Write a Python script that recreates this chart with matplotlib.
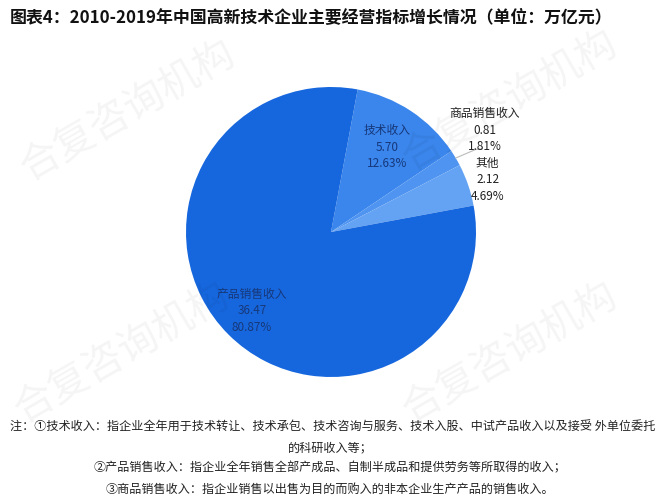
import matplotlib
matplotlib.use("Agg")
import matplotlib.pyplot as plt
import numpy as np

plt.rcParams['font.family'] = ['Noto Sans CJK SC', 'DejaVu Sans']

categories = ["技术收入", "商品销售收入", "其他", "产品销售收入"]
values = [5.70, 0.81, 2.12, 36.47]
percents = ["12.63%", "1.81%", "4.69%", "80.87%"]
colors = ["#3a86ec", "#4f94f0", "#64a3f3", "#1667de"]

title = "图表4：2010-2019年中国高新技术企业主要经营指标增长情况（单位：万亿元）"
notes = [
    "注：①技术收入：指企业全年用于技术转让、技术承包、技术咨询与服务、技术入股、中试产品收入以及接受 外单位委托",
    "的科研收入等；",
    "②产品销售收入：指企业全年销售全部产成品、自制半成品和提供劳务等所取得的收入；",
    "③商品销售收入：指企业销售以出售为目的而购入的非本企业生产产品的销售收入。",
]

W, H = 658, 504
fig = plt.figure(figsize=(W / 100, H / 100), dpi=100)
fig.patch.set_facecolor("white")

# watermark
wm = "合复咨询机构"
for (x, y) in [(0.02, 0.78), (0.60, 0.80), (0.01, 0.30), (0.60, 0.30)]:
    fig.text(x, y, wm, fontsize=29, color="#000000", alpha=0.045, rotation=30,
             ha="left", va="center")

cx, cy, r = 331, 232, 145
ax = fig.add_axes([(cx - r) / W, (H - cy - r) / H, 2 * r / W, 2 * r / H])
wedges, _ = ax.pie(values, colors=colors, startangle=79.4, counterclock=False,
                   radius=1.0, wedgeprops=dict(linewidth=0))
ax.set_xlim(-1, 1)
ax.set_ylim(-1, 1)
ax.set_aspect("equal")
ax.axis("off")

def mid(w):
    a = np.deg2rad((w.theta1 + w.theta2) / 2)
    return np.cos(a), np.sin(a)

inner_col = "#17387a"
# 技术收入 inside
c, s = mid(wedges[0])
ax.text(0.70 * c, 0.70 * s, f"{categories[0]}\n{values[0]:.2f}\n{percents[0]}",
        ha="center", va="center", fontsize=8.5, color=inner_col, linespacing=1.35)
# 产品销售收入 inside
c, s = mid(wedges[3])
ax.text(0.77 * c, 0.77 * s, f"{categories[3]}\n{values[3]:.2f}\n{percents[3]}",
        ha="center", va="center", fontsize=8.5, color=inner_col, linespacing=1.35)
# 商品销售收入 outside with leader
c, s = mid(wedges[1])
ax.plot([c, 1.0, 1.04], [s, 0.57, 0.57], color="#bbbbbb", lw=0.8, clip_on=False)
ax.text(1.06, 0.70, f"{categories[1]}\n{values[1]:.2f}\n{percents[1]}",
        ha="center", va="center", fontsize=8.5, color="#222222", linespacing=1.35)
# 其他 outside
ax.text(1.08, 0.36, f"{categories[2]}\n{values[2]:.2f}\n{percents[2]}",
        ha="center", va="center", fontsize=8.5, color="#222222", linespacing=1.35)

fig.text(10 / W, 1 - 18 / H, title, fontsize=12.2, fontweight="bold",
         ha="left", va="center", color="#111111")

ys = [427, 448, 468, 489]
fig.text(10 / W, 1 - ys[0] / H, notes[0], fontsize=8.7, ha="left", va="center", color="#222222")
for t, y in zip(notes[1:], ys[1:]):
    fig.text(330 / W, 1 - y / H, t, fontsize=8.7, ha="center", va="center", color="#222222")

fig.savefig("out.png", dpi=100, facecolor="white")
